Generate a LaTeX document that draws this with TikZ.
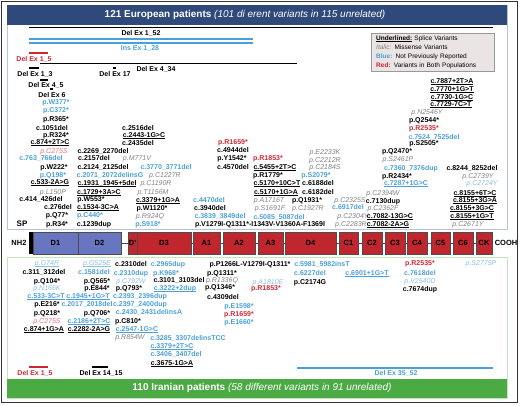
\documentclass[tikz,border=0pt]{standalone}
\usepackage{fontspec}
\setmainfont{Liberation Sans}
\usetikzlibrary{positioning}
\definecolor{eurohead}{RGB}{46,73,122}
\definecolor{iranhead}{RGB}{76,170,68}
\definecolor{euroline}{RGB}{180,196,222}
\definecolor{iranline}{RGB}{196,228,190}
\definecolor{novel}{RGB}{74,160,216}
\definecolor{novellt}{RGB}{140,190,230}
\definecolor{shared}{RGB}{204,40,52}
\definecolor{sharedlt}{RGB}{232,112,122}
\definecolor{miss}{RGB}{130,130,130}
\definecolor{domblue}{RGB}{104,118,192}
\definecolor{domred}{RGB}{192,38,46}
\definecolor{legfill}{RGB}{234,228,228}
\newsavebox{\splbox}
\newcommand{\spl}[1]{\sbox{\splbox}{#1}\rlap{\rule[-0.9pt]{\wd\splbox}{0.5pt}}\usebox{\splbox}}

\begin{document}
\begin{tikzpicture}[x=1pt,y=-1pt,
  v/.style={font=\bfseries\fontsize{7}{8}\selectfont,inner sep=0pt,text height=5pt,text depth=0pt},
  vnew/.style={v,text=novel}, vboth/.style={v,text=shared},
  vmis/.style={v,font=\itshape\fontsize{7}{8}\selectfont,text=miss},
  vmisnew/.style={vmis,text=novellt}, vmisboth/.style={vmis,text=sharedlt},
  bar/.style={line width=1.5pt}, sbar/.style={line width=2pt},
  dom/.style={draw=black!70,line width=0.4pt,minimum height=22pt,inner sep=0pt,font=\bfseries\fontsize{7.5}{8}\selectfont},
  bdom/.style={dom,fill=domblue}, rdom/.style={dom,fill=domred},
  link/.style={draw=black!70,line width=0.6pt},
  head/.style={text=white,inner sep=0pt,font=\fontsize{10}{12}\selectfont}]
\useasboundingbox (0,0) rectangle (520,405);
\draw[black!80,line width=1pt] (1,1) rectangle (517,402);

% European panel
\draw[euroline,line width=0.8pt] (7,5) rectangle (507,229);
\fill[eurohead] (7,5) rectangle (507,25);
\node[head] (eutitle) at (245,15) {\textbf{121 European patients} \textit{(101 di erent variants in 115 unrelated)}};

\draw[bar] (29,27.5) -- (493,27.5);
\draw[novel,line width=1.2pt] (29,39) -- (253,39) (29,43) -- (253,43);
\draw[shared,sbar] (29,53) -- (48,53);
\draw[bar] (40,63.5) -- (297,63.5);
\draw[sbar] (29,68) -- (39,68) (113,68) -- (116,68) (40,79.5) -- (48,79.5) (50,89) -- (53,89);
\node[v] (ex152) at (141,33) {Del Ex 1\_52};
\node[vnew] (ins128) at (140,48) {Ins Ex 1\_28};
\node[vboth] (ex15) at (34,59) {Del Ex 1\_5};
\node[v] (ex434) at (156,69) {Del Ex 4\_34};
\node[v] (ex13) at (35,74) {Del Ex 1\_3};
\node[v] (ex17) at (115,74) {Del Ex 17};
\node[v] (ex45) at (46,84.5) {Del Ex 4\_5};
\node[v] (ex6) at (52,94.5) {Del Ex 6};

\node[draw=black!40,fill=legfill,anchor=north west,align=left,text width=113pt,inner xsep=5pt,inner ysep=3pt,
  font=\fontsize{6.5}{8.7}\selectfont] (legend) at (371,33)
  {\spl{\textbf{Underlined:}} Splice Variants\\ \textcolor{miss}{\textit{Italic:}} Missense Variants\\
   \textcolor{novel}{\textbf{Blue:}} Not Previously Reported\\ \textcolor{shared}{\textbf{Red:}} Variants in Both Populations};

\foreach \x/\y/\lab [count=\i] in {56/119/p.R365*, 52/128/c.1051del, 56/135/p.R324*, 50/142/\spl{c.874+2T>C},
  54/167/p.W222*, 50/182/\spl{c.533-2A>G}, 41/199/c.414\_426del, 58/207/c.276del, 57/215/p.Q77*, 57/224/p.R34*,
  138/128/c.2516del, 144/135/\spl{c.2443-1G>C}, 138/143/c.2435del, 103/151/c.2269\_2270del, 94/158/c.2157del,
  103/167/c.2124\_2125del, 107/183/\spl{c.1931\_1945+5del}, 99/192/\spl{c.1729+3A>C}, 91/199/p.W553*,
  98/207/\spl{c.1534-3C>A}, 94/224/c.1239dup, 158/200/\spl{c.3379+1G>A}, 152/208/p.W1120*, 210/208/c.3940del,
  260/224/p.V1279I-Q1311*-I1343V-V1360A-F1369I, 233/150/c.4944del, 232/158/p.Y1542*, 233/167/c.4570del,
  275/167/\spl{c.5455+2T>C}, 268/175/p.R1779*, 277/183/\spl{c.5170+10C>T}, 276/192/\spl{c.5170+1G>A},
  318/183/c.6188del, 318/192/c.6182del, 307/200/p.Q1931*, 383/201/c.7130dup, 390/216/\spl{c.7082-13G>C},
  388/224/\spl{c.7082-2A>G}, 452/81/\spl{c.7887+2T>A}, 452/89/\spl{c.7770+1G>T}, 452/97/\spl{c.7730-1G>C},
  451/104/\spl{c.7729-7C>T}, 424/120/p.Q2544*, 424/143/p.S2505*, 397/151/p.Q2470*, 472/168/c.8244\_8252del,
  397/176/p.R2434*, 475/193/\spl{c.8155+6T>C}, 475/200/\spl{c.8155+3G>A}, 472/208/\spl{c.8155+3G>C},
  472/216/\spl{c.8155+1G>T}}
  \node[v] (eu\i) at (\x,\y) {\lab};
\foreach \x/\y/\lab [count=\i] in {56/102/p.W377*, 56/110/p.C372*, 41/158/c.763\_766del, 53/175/p.Q198*,
  166/167/c.3770\_3771del, 110/175/c.2071\_2072delinsG, 209/200/c.4470del, 90/215/p.C440*, 220/216/c.3839\_3849del,
  148/224/p.S918*, 279/217/c.5085\_5087del, 316/175/p.S2079*, 348/207/c.6917del, 434/137/c.7524\_7525del,
  411/168/c.7360\_7376dup, 406/183/\spl{c.7287+1G>C}}
  \node[vnew] (eunew\i) at (\x,\y) {\lab};
\foreach \x/\y/\lab [count=\i] in {233/142/p.R1659*, 268/158/p.R1853*, 424/128/p.R2535*}
  \node[vboth] (euboth\i) at (\x,\y) {\lab};
\node[vmisboth] (eumisboth) at (54,151) {p.C275S};
\foreach \x/\y/\lab [count=\i] in {53/192/p.L150P, 137/158/p.M771V, 165/175/p.C1227R, 156/183/p.C1190R,
  153/192/p.T1156M, 150/216/p.R924Q, 269/200/p.A1716T, 270/208/p.S1691F, 308/208/p.C1927R, 325/152/p.E2233K,
  325/160/p.C2212R, 325/167/p.C2184S, 350/200/p.C2325S, 383/208/p.C2362F, 353/216/p.C2304Y, 351/224/p.C2283R,
  427/112/p.N2546Y, 398/159/p.S2461P, 478/176/p.C2739Y, 383/193/p.C2394W, 468/224/p.C2671Y}
  \node[vmis] (eumis\i) at (\x,\y) {\lab};
\node[vmisnew] (eumisnew) at (482,183) {p.C2724Y};

% protein
\node[fill=black,minimum width=4pt,minimum height=22pt,inner sep=0pt] (sp) at (31,243) {};
\foreach \n/\c/\w/\lab in {D1/55.5/45/D1, D2/99.5/43/D2}
  \node[bdom,minimum width=\w pt] (\n) at (\c,243) {\lab};
\foreach \n/\c/\w/\lab in {Dp/132.5/9/D', D3/164/54/D3, A1/206.5/27/A1, A2/239/32/A2, A3/270.5/25/A3,
  D4/310.5/51/D4, C1/348.5/19/C1, C2/372/20/C2, C3/395/20/C3, C4/417/20/C4, C5/440.5/19/C5, C6/463/20/C6, CK/484/16/CK}
  \node[rdom,minimum width=\w pt] (\n) at (\c,243) {\lab};
\foreach \a/\b in {D2/Dp, D3/A1, A1/A2, A2/A3, A3/D4, D4/C1, C1/C2, C2/C3, C3/C4, C4/C5, C5/C6, C6/CK}
  \draw[link] (\a) -- (\b);
\node[v,font=\bfseries\fontsize{8}{9}\selectfont] (splab) at (22,224) {SP};
\node[v,font=\bfseries\fontsize{7.5}{9}\selectfont] (nh2) at (19,243) {NH2};
\node[v,font=\bfseries\fontsize{7.5}{9}\selectfont] (cooh) at (506,243) {COOH};

% Iranian panel
\draw[iranline,line width=0.8pt] (7,257) rectangle (507,398);
\fill[iranhead] (7,379) rectangle (507,398);
\node[head] (irtitle) at (262,388) {\textbf{110 Iranian patients} \textit{(58 different variants in 91 unrelated)}};

\foreach \x/\y/\lab [count=\i] in {131/264/c.2310del, 250/264/p.P1266L-V1279I-Q1311*, 44/272/c.311\_312del,
  222/273/p.Q1311*, 47/281/p.Q104*, 97/281/p.Q565*, 179/280/c.3101\_3103del, 310/282/p.C2174G, 97/288/p.E844*,
  129/288/p.Q793*, 220/287/p.Q1346*, 420/289/c.7674dup, 223/297/c.4309del, 47/304/p.E216*, 47/313/p.Q218*,
  97/313/p.Q706*, 128/321/p.C810*, 44/329/\spl{c.874+1G>A}, 89/329/\spl{c.2282-2A>G}, 172/363/\spl{c.3675-1G>A}}
  \node[v] (ir\i) at (\x,\y) {\lab};
\foreach \x/\y/\lab [count=\i] in {168/264/c.2965dup, 322/264/c.5981\_5982insT, 94/272/c.1581del, 131/273/c.2310dup,
  166/273/p.K968*, 310/273/c.6227del, 420/273/c.7618del, 140/296/c.2393\_2396dup, 87/304/c.2017\_2018del,
  140/304/c.2397\_2400dup, 239/306/p.E1598*, 149/312/c.2430\_2431delinsA, 239/322/p.E1660*,
  188/338/c.3285\_3307delinsTCC, 176/354/c.3406\_3407del, 367/273/\spl{c.6901+1G>T}, 175/288/\spl{c.3222+2dup},
  46/296/\spl{c.533-3C>T}, 88/296/\spl{c.1945+1G>T}, 89/321/\spl{c.2186+2T>C}, 137/329/\spl{c.2547-1G>C},
  172/346/\spl{c.3379+2T>C}}
  \node[vnew] (irnew\i) at (\x,\y) {\lab};
\foreach \x/\y/\lab [count=\i] in {420/263/p.R2535*, 266/288/p.R1853*, 239/314/p.R1659*}
  \node[vboth] (irboth\i) at (\x,\y) {\lab};
\node[vmisboth] (irmisboth) at (47,321) {p.C275S};
\foreach \x/\y/\lab [count=\i] in {222/280/p.R1336Q, 130/337/p.R854W}
  \node[vmis] (irmis\i) at (\x,\y) {\lab};
\foreach \x/\y/\lab [count=\i] in {47/263/\spl{p.G74R}, 97/263/\spl{p.G525E}, 481/263/p.S2775P, 131/281/p.C792W,
  268/282/p.A1810E, 420/281/p.V2540D, 47/288/p.N166K}
  \node[vmisnew] (irmisnew\i) at (\x,\y) {\lab};

\draw[shared,sbar] (29,367) -- (48,367);
\draw[sbar] (92,367) -- (108,367);
\draw[novel,bar] (297,368) -- (493,368);
\node[vboth] (irex15) at (35,373) {Del Ex 1\_5};
\node[v] (irex1415) at (101,373) {Del Ex 14\_15};
\node[vnew] (irex3552) at (396,373) {Del Ex 35\_52};
\end{tikzpicture}
\end{document}
